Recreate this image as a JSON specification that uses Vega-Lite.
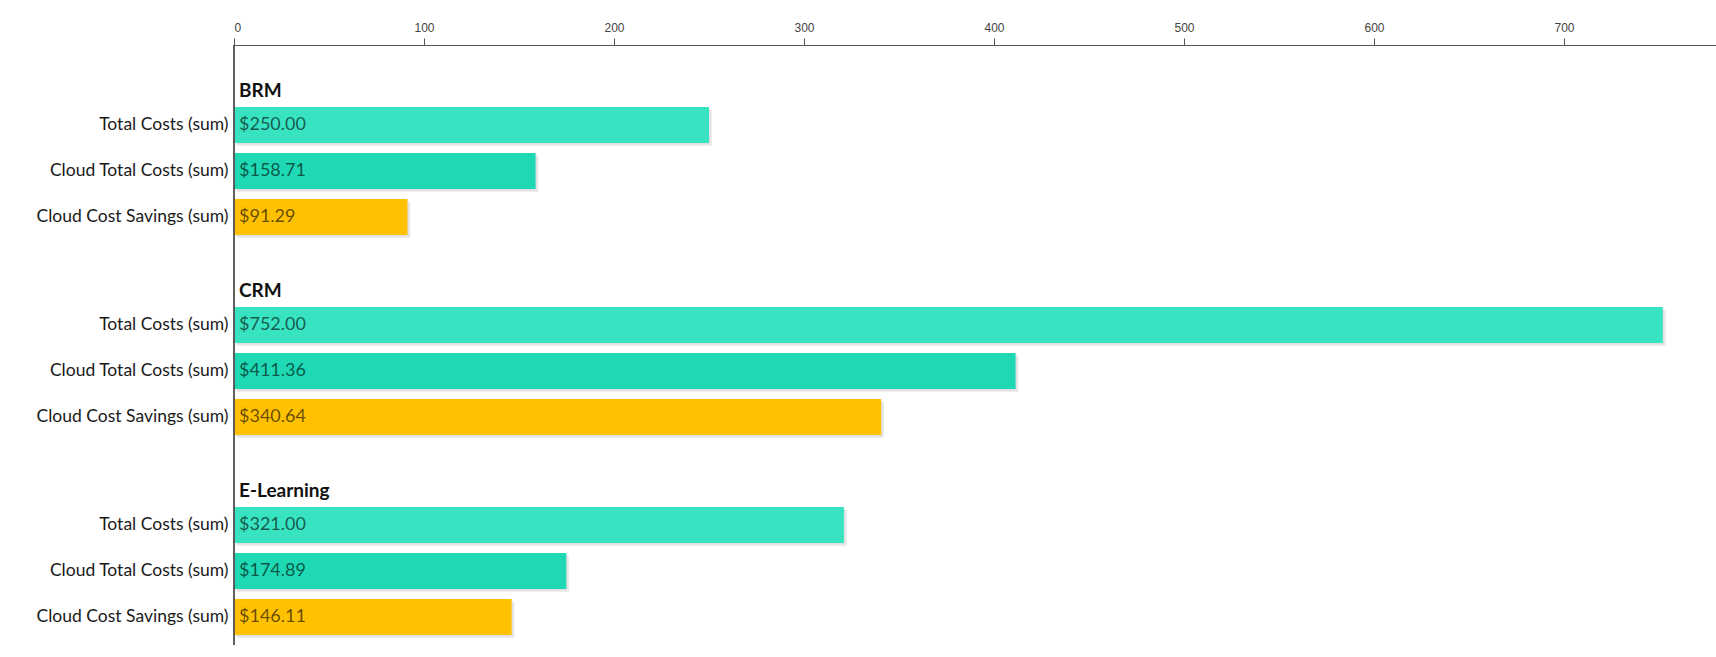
{
  "$schema": "https://vega.github.io/schema/vega-lite/v6.json",
  "padding": 0,
  "background": "white",
  "bounds": "flush",
  "data": {
    "values": [
      {"group": "BRM", "measure": "Total Costs (sum)", "value": 250.00},
      {"group": "BRM", "measure": "Cloud Total Costs (sum)", "value": 158.71},
      {"group": "BRM", "measure": "Cloud Cost Savings (sum)", "value": 91.29},
      {"group": "CRM", "measure": "Total Costs (sum)", "value": 752.00},
      {"group": "CRM", "measure": "Cloud Total Costs (sum)", "value": 411.36},
      {"group": "CRM", "measure": "Cloud Cost Savings (sum)", "value": 340.64},
      {"group": "E-Learning", "measure": "Total Costs (sum)", "value": 321.00},
      {"group": "E-Learning", "measure": "Cloud Total Costs (sum)", "value": 174.89},
      {"group": "E-Learning", "measure": "Cloud Cost Savings (sum)", "value": 146.11}
    ]
  },
  "facet": {
    "row": {"field": "group", "type": "nominal", "sort": ["BRM", "CRM", "E-Learning"], "header": {"title": null, "labels": false, "labelPadding": 0, "titlePadding": 0}}
  },
  "spacing": 0,
  "spec": {
    "width": 1482,
    "height": 200,
    "encoding": {
      "y": {
        "field": "measure", "type": "nominal",
        "scale": {"domain": ["hdr", "Total Costs (sum)", "Cloud Total Costs (sum)", "Cloud Cost Savings (sum)"], "range": [16, 190], "paddingInner": 0.2174, "paddingOuter": 0},
        "axis": {"title": null, "domain": false, "ticks": false, "tickSize": 0, "labelPadding": 6, "labelFont": "Lato", "labelFontSize": 17.5, "labelColor": "#1a1a1a", "labelExpr": "datum.value == 'hdr' ? '' : datum.value", "minExtent": 234, "maxExtent": 234, "labelLimit": 300}
      }
    },
    "layer": [
      {
        "mark": {"type": "bar", "color": "#000000", "opacity": 0.07, "xOffset": 3, "yOffset": 3},
        "encoding": {
          "x": {
            "field": "value", "type": "quantitative",
            "scale": {"domain": [0, 780], "nice": false},
            "axis": {"orient": "top", "title": null, "grid": false, "values": [0, 100, 200, 300, 400, 500, 600, 700], "tickSize": 7, "tickColor": "#555555", "domainColor": "#555555", "domainWidth": 1.2, "labelFont": "Liberation Sans, Arial, sans-serif", "labelFontSize": 12, "labelColor": "#444444", "labelPadding": 4, "minExtent": 45, "maxExtent": 45}
          }
        }
      },
      {
        "mark": {"type": "bar", "color": "#000000", "opacity": 0.06, "xOffset": 1.5, "yOffset": 1.5},
        "encoding": {
          "x": {"field": "value", "type": "quantitative"}
        }
      },
      {
        "mark": {"type": "bar"},
        "encoding": {
          "x": {"field": "value", "type": "quantitative"},
          "color": {
            "field": "measure", "type": "nominal",
            "scale": {"domain": ["Total Costs (sum)", "Cloud Total Costs (sum)", "Cloud Cost Savings (sum)"], "range": ["#38E3C2", "#1ED9B4", "#FFC100"]},
            "legend": null
          }
        }
      },
      {
        "mark": {"type": "rule", "color": "#555555", "strokeWidth": 1.2},
        "encoding": {"x": {"datum": 0, "type": "quantitative"}, "y": null}
      },
      {
        "mark": {"type": "text", "align": "left", "baseline": "middle", "dx": 5, "font": "Lato", "fontSize": 18, "fill": "#000000", "fillOpacity": 0.62},
        "encoding": {
          "x": {"datum": 0, "type": "quantitative"},
          "text": {"field": "value", "type": "quantitative", "format": "$.2f"}
        }
      },
      {
        "transform": [{"filter": "datum.measure == 'Total Costs (sum)'"}],
        "mark": {"type": "text", "align": "left", "baseline": "middle", "dx": 5, "dy": 12, "font": "Lato", "fontSize": 19, "fontWeight": "bold", "fill": "#111111"},
        "encoding": {
          "y": {"datum": "hdr", "type": "nominal"},
          "x": {"datum": 0, "type": "quantitative"},
          "text": {"field": "group", "type": "nominal"}
        }
      }
    ]
  },
  "config": {"view": {"stroke": null}}
}
